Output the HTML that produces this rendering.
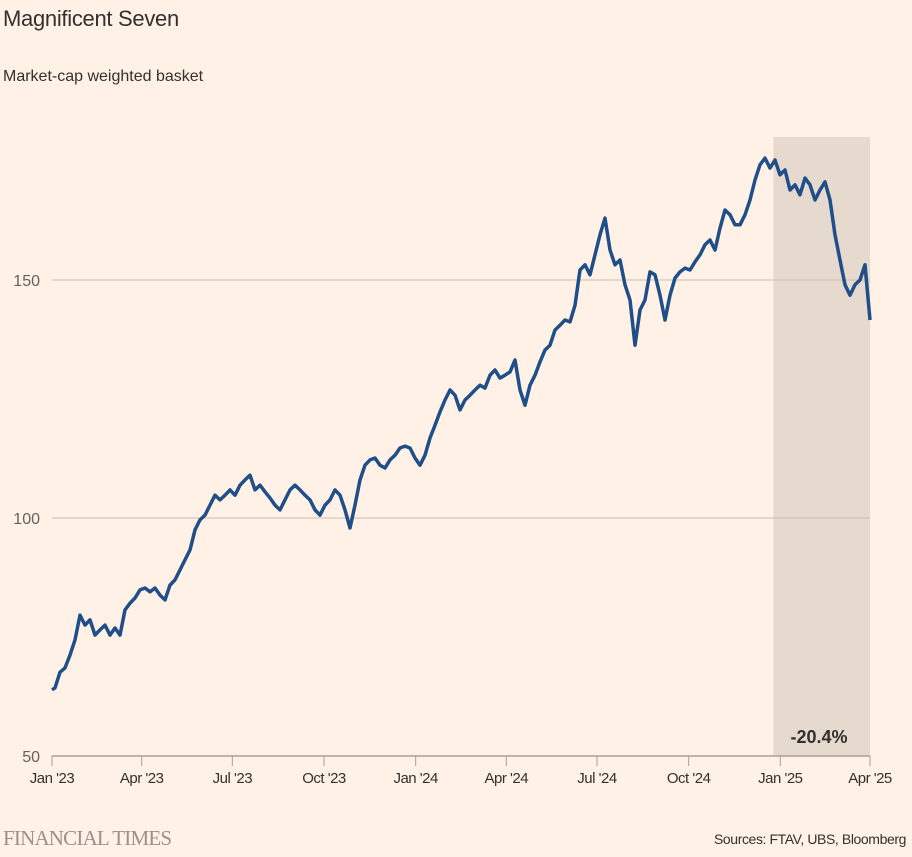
<!DOCTYPE html>
<html><head><meta charset="utf-8">
<style>
body{margin:0;background:#FFF1E5;font-family:"Liberation Sans",sans-serif;}
svg{display:block}
</style></head>
<body>
<svg width="912" height="857" xmlns="http://www.w3.org/2000/svg">
<rect width="912" height="857" fill="#FFF1E5"/>
<text x="3" y="26" font-size="22" fill="#33302e" letter-spacing="-0.3">Magnificent Seven</text>
<text x="3" y="81" font-size="16" fill="#33302e">Market-cap weighted basket</text>
<g id="plot"></g>
<text x="3" y="845" font-family="Liberation Serif,serif" font-size="21" fill="#9a9189" letter-spacing="-0.8">FINANCIAL TIMES</text>
<text x="906" y="844" text-anchor="end" font-size="14" fill="#33302e" letter-spacing="-0.4">Sources: FTAV, UBS, Bloomberg</text>
</svg>
<script>
const values=[63.9,64.3,67.6,68.5,71.2,74.4,79.6,77.5,78.6,75.4,76.5,77.5,75.4,76.9,75.4,80.7,82.1,83.2,84.9,85.3,84.5,85.3,83.8,82.8,85.9,87.0,89.1,91.2,93.3,97.5,99.6,100.6,102.7,104.8,103.8,104.8,105.9,104.8,106.9,108.0,109.0,105.9,106.9,105.5,104.2,102.7,101.7,103.8,105.9,106.9,105.9,104.8,103.8,101.7,100.6,102.7,103.8,105.9,104.8,101.7,97.9,102.7,108.0,111.1,112.2,112.6,111.1,110.5,112.2,113.2,114.7,115.1,114.7,112.6,111.1,113.2,116.8,119.5,122.3,124.8,126.9,125.8,122.7,124.8,125.8,126.9,127.9,127.3,130.0,131.1,129.4,130.0,130.7,133.2,126.9,123.7,127.9,130.0,132.8,135.3,136.3,139.5,140.5,141.6,141.2,144.7,152.1,153.2,151.1,155.3,159.5,163.0,156.3,153.2,154.2,149.0,145.8,136.3,143.7,145.8,151.7,151.1,146.8,141.6,146.8,150.4,151.7,152.5,152.1,153.8,155.3,157.4,158.4,156.3,160.9,164.7,163.7,161.6,161.6,163.7,166.8,171.0,174.2,175.6,173.5,175.2,172.1,173.1,168.9,170.0,167.9,171.4,170.0,166.8,168.9,170.6,166.8,159.5,154.2,149.0,146.8,149.0,150.0,153.2,141.6];
const tickLabels=["Jan '23","Apr '23","Jul '23","Oct '23","Jan '24","Apr '24","Jul '24","Oct '24","Jan '25","Apr '25"];
const tickDays=[0,90,181,273,365,456,547,639,731,821];
const yTicks=[50,100,150];
const shadeStartDay=724;
const totalDays=821;
const ns="http://www.w3.org/2000/svg";
const g=document.getElementById('plot');
const X=d=>52+d*(818/totalDays);
const Y=v=>756-(v-50)*4.76;
function mk(t,a){const e=document.createElementNS(ns,t);for(const k in a)e.setAttribute(k,a[k]);g.appendChild(e);return e;}
const sh=mk('rect',{x:X(shadeStartDay),y:137,width:X(totalDays)-X(shadeStartDay),height:756-137,fill:'#e6d9ce'});


yTicks.forEach(v=>{
 if(v>50){const l=mk('line',{x1:52,x2:870,y1:Y(v),y2:Y(v),stroke:'#c9bdb3','stroke-width':1});
 
 }
 const t=mk('text',{x:40,y:Y(v)+6,'text-anchor':'end','font-size':16,fill:'#66605c'});t.textContent=v;
 
 
});
const base=mk('line',{x1:52,x2:870,y1:756,y2:756,stroke:'#a89f97','stroke-width':1.5});


tickDays.forEach((d,i)=>{
 const l=mk('line',{x1:X(d),x2:X(d),y1:756,y2:766,stroke:'#a89f97','stroke-width':1});
 
 
 const t=mk('text',{x:X(d),y:783,'text-anchor':'middle','font-size':15,fill:'#33302e','letter-spacing':'-0.5'});t.textContent=tickLabels[i];
 
 
});
let dpath='';
values.forEach((v,i)=>{const day=i===0?0:(i===1?3:8+(i-2)*5)*totalDays/818;dpath+=(i?'L':'M')+X(day).toFixed(1)+','+Y(v).toFixed(1);});
const p=mk('path',{d:dpath,fill:'none',stroke:'#1f4e88','stroke-width':3.5,'stroke-linejoin':'round'});


const a=mk('text',{x:819,y:743,'text-anchor':'middle','font-size':18,fill:'#33302e','font-weight':'bold'});a.textContent='-20.4%';


</script>
</body></html>
